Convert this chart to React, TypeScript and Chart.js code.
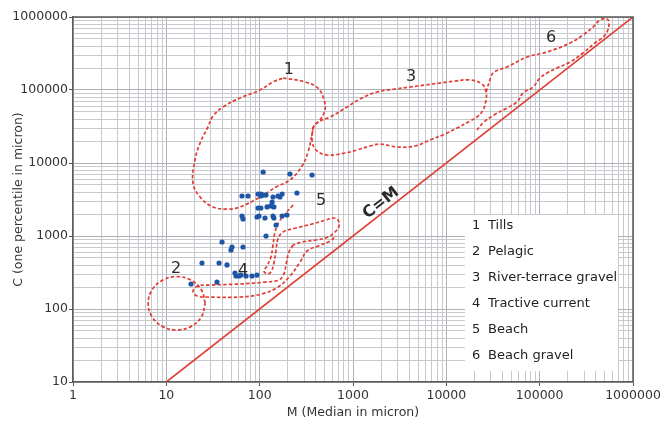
import React, { useEffect, useRef } from 'react';
import { Chart, registerables } from 'chart.js';

Chart.register(...registerables);

// ---------- data ----------
const xTickLabels = ['1', '10', '100', '1000', '10000', '100000', '1000000'];
const yTickLabels = ['10', '100', '1000', '10000', '100000', '1000000'];

const xTitle = 'M (Median in micron)';
const yTitle = 'C (one percentile in micron)';

// sample points [M, C]
const samples: [number, number][] = [
  [109, 7530], [211, 7070], [364, 6850], [251, 3880], [64.7, 3530], [75, 3530],
  [96, 3760], [103, 3760], [109, 3640], [103, 3530], [117, 3640], [139, 3420],
  [157, 3530], [174, 3760], [165, 3420], [136, 2920], [120, 2500], [142, 2500],
  [96, 2420], [103, 2420], [132, 2580], [64.7, 1880], [66.3, 1710], [93.6, 1820],
  [98.4, 1880], [114, 1765], [139, 1880], [142, 1765], [174, 1880], [196, 1940],
  [150, 1415], [117, 1000], [39.5, 828], [50.5, 707], [49.3, 643], [66.3, 707],
  [24.1, 427], [36.7, 427], [44.7, 401], [18.4, 220], [34.9, 234], [54.4, 311],
  [55.8, 283], [60.1, 283], [63.1, 292], [71.4, 283], [82.8, 283], [93.6, 292],
];

// C = M reference line
const cmLine: [number, number][] = [[10, 10], [1000000, 1000000]];

// field outlines [M, C]
const tills: [number, number][] = [
  [178, 146000], [306, 129000], [422, 106000], [489, 73000], [501, 53200], [443, 38800],
  [382, 32100], [364, 24200], [330, 14200], [284, 9100], [211, 5850], [150, 4690],
  [101, 3420], [61.5, 2500], [45.8, 2340], [31.6, 2500], [23, 3420], [19.3, 5320],
  [20.3, 11000], [23, 18800], [27.9, 31100], [31.6, 44000], [40.5, 58500], [61.5, 77700],
  [101, 100000], [139, 129000], [178, 146000],
];

const pelagic: [number, number][] = [
  [26.1, 120], [23.8, 182], [18.4, 248], [12.9, 278], [9.09, 248], [7.02, 182],
  [6.39, 120], [7.02, 78.4], [9.09, 57.7], [12.9, 51.6], [18.4, 57.7], [23.8, 78.4],
  [26.1, 120],
];

const riverTerrace: [number, number][] = [
  [373, 31130], [364, 20660], [401, 15070], [527, 12870], [821, 13710], [1104, 15070],
  [1522, 17090], [1947, 18210], [2962, 16570], [4617, 17090], [6688, 20660], [9680, 24960],
  [13020, 30160], [17940, 37610], [21320, 42680], [24720, 53210], [26620, 72950],
  [26620, 93890], [24120, 120900], [17940, 137100], [12390, 132800], [8557, 124700],
  [5909, 117100], [4082, 109900], [2819, 103200], [1808, 93890], [1189, 75300],
  [863, 58500], [567, 42680], [422, 36420], [373, 31130],
];

const beachGravel: [number, number][] = [
  [26620, 93890], [30110, 150700], [32420, 176500], [44690, 206600], [73170, 283300],
  [119900, 331600], [211500, 440400], [291400, 566800], [372900, 729400], [443300, 909800],
  [526800, 938900], [553400, 827700], [526800, 623000], [465700, 515600], [391800, 440400],
  [291400, 321200], [211500, 241900], [153400, 200200], [119900, 170900], [100900, 146000],
  [84870, 109900], [66310, 91000], [57200, 68480], [44690, 56680], [32420, 45440],
  [25330, 36420], [21320, 28330],
];

const beach: [number, number][] = [
  [228, 2660], [192, 2070], [161, 1555], [146, 1134], [139, 753], [132, 516], [120, 388],
  [111, 331], [120, 302], [132, 321], [142, 427], [150, 643], [157, 910], [178, 1134],
  [245, 1287], [364, 1460], [514, 1657], [611, 1765], [691, 1657], [708, 1371], [642, 1134],
  [540, 969], [401, 881], [284, 828], [228, 753],
];

const tractive: [number, number][] = [
  [228, 753], [206, 604], [192, 413], [182, 302], [161, 250], [114, 234], [61.6, 220],
  [29.4, 213], [21.8, 207], [19.3, 176], [21.3, 151], [28, 146], [61.6, 146], [106, 161],
  [157, 200], [211, 283], [271, 440], [322, 623], [422, 729], [567, 854], [658, 1000],
];

// region number labels [text, M, C]
const regionLabels: [string, number, number][] = [
  ['1', 206, 188000], ['2', 12.7, 353], ['3', 4183, 150700],
  ['4', 66.3, 331], ['5', 454, 3016], ['6', 132300, 515600],
];
const cmLabel = 'C=M';
const cmLabelAt: [number, number] = [1995, 2830];

const legendNumbers = ['1', '2', '3', '4', '5', '6'];
const legendNames = ['Tills', 'Pelagic', 'River-terrace gravel', 'Tractive current', 'Beach', 'Beach gravel'];

// ---------- helpers ----------
const FONT = '"DejaVu Sans", Verdana, sans-serif';
const RED = '#e23b33';
const isPow10 = (v: number) => {
  if (!v) return false;
  const e = Math.log10(v);
  return Math.abs(e - Math.round(e)) < 1e-9;
};
const logTicks = (minExp: number, maxExp: number) => {
  const out: { value: number; major: boolean }[] = [];
  for (let e = minExp; e < maxExp; e++) {
    for (let k = 1; k <= 9; k++) out.push({ value: k * Math.pow(10, e), major: k === 1 });
  }
  out.push({ value: Math.pow(10, maxExp), major: true });
  return out;
};
const toXY = (arr: [number, number][]) => arr.map(([x, y]) => ({ x, y }));

const outline = (data: [number, number][]) => ({
  data: toXY(data),
  showLine: true,
  borderColor: RED,
  borderWidth: 1.7,
  borderDash: [3.5, 2.2],
  pointRadius: 0,
  tension: 0.4,
  fill: false,
});

const overlayPlugin = {
  id: 'overlay',
  afterDatasetsDraw(chart: any) {
    const { ctx, chartArea, scales } = chart;
    const x = scales.x;
    const y = scales.y;
    ctx.save();
    // frame top / right
    ctx.strokeStyle = '#5a5a5a';
    ctx.lineWidth = 1.5;
    ctx.beginPath();
    ctx.moveTo(chartArea.left, chartArea.top);
    ctx.lineTo(chartArea.right, chartArea.top);
    ctx.lineTo(chartArea.right, chartArea.bottom);
    ctx.stroke();

    // region labels
    ctx.fillStyle = '#2a2a2a';
    ctx.font = `16px ${FONT}`;
    ctx.textAlign = 'center';
    ctx.textBaseline = 'middle';
    regionLabels.forEach(([t, mx, cy]) => {
      ctx.fillText(t, x.getPixelForValue(mx), y.getPixelForValue(cy));
    });

    // C=M label
    const ang = Math.atan2(
      y.getPixelForValue(cmLine[1][1]) - y.getPixelForValue(cmLine[0][1]),
      x.getPixelForValue(cmLine[1][0]) - x.getPixelForValue(cmLine[0][0])
    );
    ctx.save();
    ctx.translate(x.getPixelForValue(cmLabelAt[0]), y.getPixelForValue(cmLabelAt[1]));
    ctx.rotate(ang);
    ctx.font = `bold 16px ${FONT}`;
    ctx.fillText(cmLabel, 0, 0);
    ctx.restore();

    // legend box
    const bx = chartArea.right - 168;
    const by = chartArea.top + 198;
    ctx.fillStyle = '#ffffff';
    ctx.fillRect(bx, by, 153, 156);
    ctx.fillStyle = '#222';
    ctx.font = `13px ${FONT}`;
    ctx.textAlign = 'left';
    legendNumbers.forEach((n, i) => {
      const ty = by + 11 + i * 25.9;
      ctx.fillText(n, bx + 7, ty);
      ctx.fillText(legendNames[i], bx + 23, ty);
    });
    ctx.restore();
  },
};

export default function App() {
  const ref = useRef<HTMLCanvasElement | null>(null);
  useEffect(() => {
    if (!ref.current) return;
    const gridColor = (c: any) => (c.tick && isPow10(c.tick.value) ? '#aeb2b6' : '#c6c9cd');
    const tickColor = (c: any) => (c.tick && isPow10(c.tick.value) ? '#555' : 'rgba(0,0,0,0)');
    const chart = new Chart(ref.current, {
      type: 'scatter',
      data: {
        datasets: [
          {
            data: toXY(samples),
            pointRadius: 2.6,
            pointBackgroundColor: '#1f55a6',
            pointBorderWidth: 0,
            showLine: false,
          } as any,
          {
            data: toXY(cmLine),
            showLine: true,
            borderColor: RED,
            borderWidth: 1.6,
            pointRadius: 0,
            tension: 0,
          },
          outline(tills),
          outline(pelagic),
          outline(riverTerrace),
          outline(beachGravel),
          outline(beach),
          outline(tractive),
        ],
      },
      options: {
        animation: false,
        responsive: true,
        maintainAspectRatio: false,
        devicePixelRatio: 1,
        layout: { padding: { left: 0, right: 39, top: 17, bottom: 0 } },
        plugins: { legend: { display: false }, tooltip: { enabled: false } },
        scales: {
          x: {
            type: 'logarithmic',
            min: 1,
            max: 1000000,
            afterBuildTicks: (s: any) => { s.ticks = logTicks(0, 6); },
            afterFit: (s: any) => { s.height = 39; },
            grid: { color: gridColor, lineWidth: 1, tickLength: 4, tickColor, drawTicks: true },
            border: { color: '#5a5a5a', width: 1.5 },
            ticks: {
              autoSkip: false,
              maxRotation: 0,
              minRotation: 0,
              padding: 2,
              color: '#333',
              font: { family: FONT, size: 12.5 },
              callback: (v: any) => (isPow10(Number(v)) ? xTickLabels[Math.round(Math.log10(Number(v)))] : ''),
            },
            title: { display: true, text: xTitle, color: '#333', font: { family: FONT, size: 12.5 }, padding: { top: 0, bottom: 1 } },
          },
          y: {
            type: 'logarithmic',
            min: 10,
            max: 1000000,
            afterBuildTicks: (s: any) => { s.ticks = logTicks(1, 6); },
            afterFit: (s: any) => { s.width = 73; },
            grid: { color: gridColor, lineWidth: 1, tickLength: 4, tickColor, drawTicks: true },
            border: { color: '#5a5a5a', width: 1.5 },
            ticks: {
              autoSkip: false,
              padding: 1,
              color: '#333',
              font: { family: FONT, size: 12.5 },
              callback: (v: any) => (isPow10(Number(v)) ? yTickLabels[Math.round(Math.log10(Number(v))) - 1] : ''),
            },
            title: { display: true, text: yTitle, color: '#333', font: { family: FONT, size: 12.5 }, padding: { top: 11, bottom: 0 } },
          },
        },
      },
      plugins: [overlayPlugin],
    } as any);
    return () => chart.destroy();
  }, []);
  return (
    <div style={{ position: 'fixed', left: 0, top: 0, width: 672, height: 421, background: '#fff' }}>
      <canvas ref={ref} />
    </div>
  );
}
